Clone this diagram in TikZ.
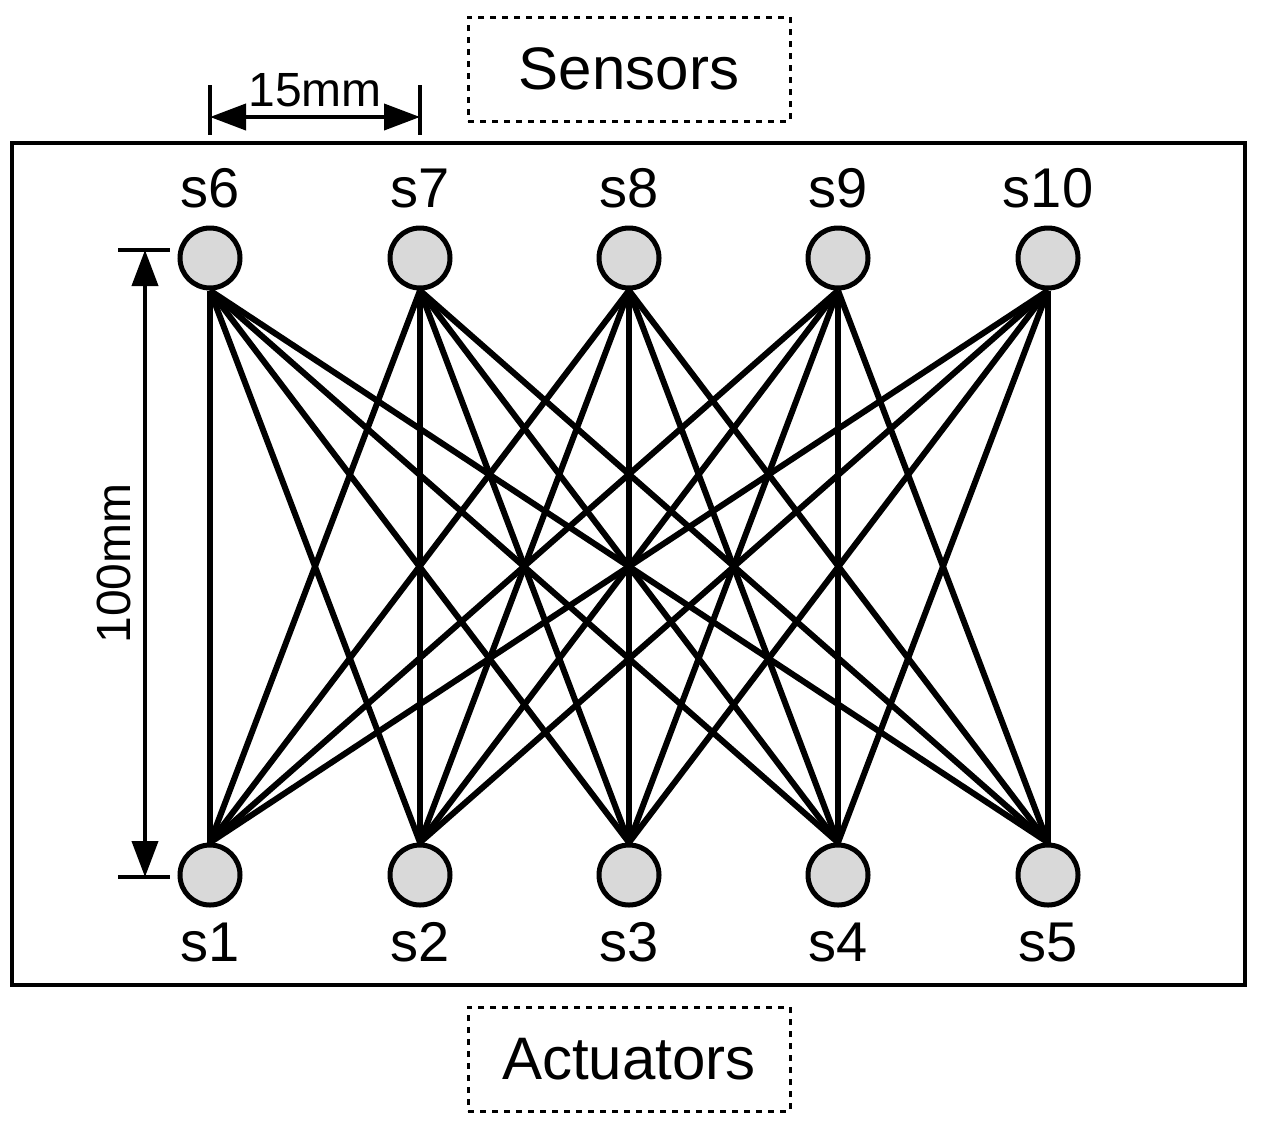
\documentclass[tikz,border=0pt]{standalone}
\usepackage{fontspec}
\setmainfont{Liberation Sans}
\usetikzlibrary{arrows.meta}
\tikzset{
  trans/.style={circle, draw, line width=2.5pt, fill=gray!30, minimum size=30pt, inner sep=0pt},
  lbl/.style={font=\fontsize{28}{30}\selectfont, inner sep=0pt},
  group/.style={draw, dashed, line width=1.5pt, minimum width=161pt, minimum height=52pt, font=\fontsize{30}{34}\selectfont},
  link/.style={line width=3pt},
  dim/.style={line width=2pt, {Triangle[length=18pt,width=13pt]}-{Triangle[length=18pt,width=13pt]}}
}
\begin{document}
\begin{tikzpicture}[x=0.5pt, y=-0.5pt]
  \useasboundingbox (0,0) rectangle (1262,1126);

  \draw[line width=2pt] (12,143) rectangle (1245,985);
  \node[group] (sensors) at (629,69) {Sensors};
  \node[group] (actuators) at (629,1059) {Actuators};

  % actuators s1..s5 and sensors s6..s10
  \foreach \i/\x in {1/210, 2/420, 3/629, 4/838, 5/1048} {
    \node[trans] (s\i) at (\x,875) {};
    \node[lbl] at (\x,942) {s\i};
  }
  \foreach \i/\x in {6/210, 7/420, 8/629, 9/838, 10/1048} {
    \node[trans] (s\i) at (\x,258) {};
    \node[lbl] at (\x,188) {s\i};
  }

  % every sensor to every actuator
  \foreach \t in {6,...,10}
    \foreach \b in {1,...,5}
      \draw[link] (s\t.south) -- (s\b.north);

  % dimensions
  \coordinate (ta) at (210,85);
  \coordinate (tb) at (420,85);
  \draw[line width=2pt] (ta) -- ++(0,50) (tb) -- ++(0,50);
  \draw[dim] (210,117) -- node[above=4pt, lbl, font=\fontsize{24}{26}\selectfont] {15mm} (420,117);
  \draw[line width=2pt] (118,250) -- (170,250) (118,877) -- (170,877);
  \draw[dim] (145,250) -- node[left=6pt, lbl, font=\fontsize{24}{26}\selectfont, rotate=90, anchor=south] {100mm} (145,877);
\end{tikzpicture}
\end{document}
